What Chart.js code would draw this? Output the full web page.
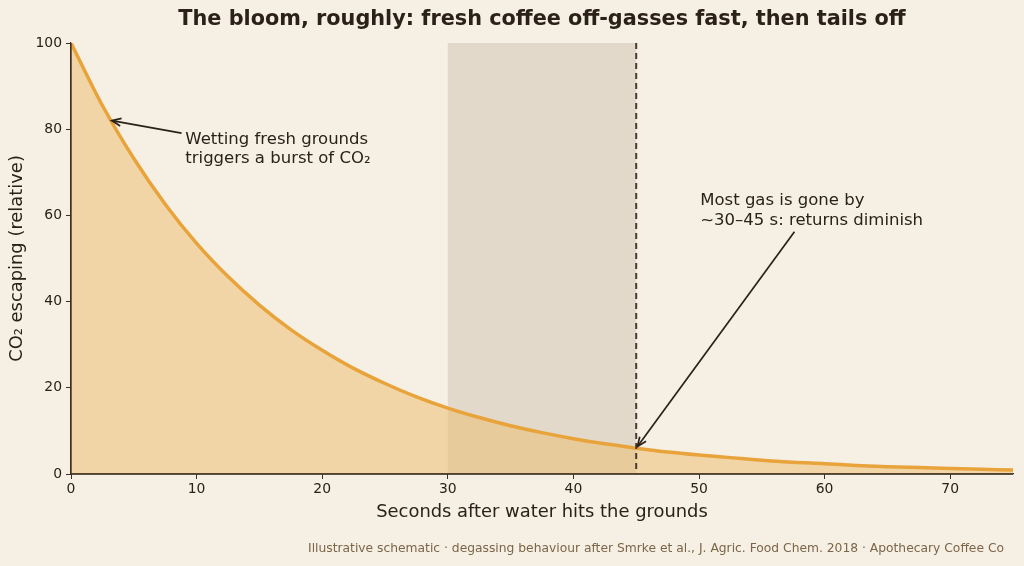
<!DOCTYPE html>
<html lang="en">
<head>
<meta charset="UTF-8">
<title>The bloom, roughly</title>
<script src="https://cdn.jsdelivr.net/npm/chart.js"></script>
<style>
  html, body { margin: 0; padding: 0; background: #f5efe4; }
  canvas { display: block; }
</style>
</head>
<body>
<canvas id="bloomChart" width="1024" height="566"></canvas>
<script>
// seconds after water hits the grounds
const seconds = [0, 2.5, 5, 7.5, 10, 12.5, 15, 17.5, 20, 22.5, 25, 27.5, 30, 32.5, 35, 37.5,
                 40, 42.5, 45, 47.5, 50, 52.5, 55, 57.5, 60, 62.5, 65, 67.5, 70, 72.5, 75];
// relative CO2 escaping
const co2 = [100, 85.5, 73.2, 62.6, 53.5, 45.8, 39.2, 33.5, 28.7, 24.5, 21.0, 17.9, 15.3, 13.1, 11.2, 9.6,
             8.2, 7.0, 6.0, 5.1, 4.4, 3.8, 3.2, 2.7, 2.4, 2.0, 1.7, 1.5, 1.3, 1.1, 0.9];
const xTicks = [0, 10, 20, 30, 40, 50, 60, 70];
const yTicks = [0, 20, 40, 60, 80, 100];
const bloomWindow = [30, 45];

const ink = '#2b2118';
const axisInk = '#3d2f22';
const font = 'DejaVu Sans';

const notes = [
  { text: ['Wetting fresh grounds', 'triggers a burst of CO₂'], at: [9.1, 77.6], from: [8.8, 79.1], to: [3.25, 82] },
  { text: ['Most gas is gone by', '~30–45 s: returns diminish'], at: [50.1, 63.4], from: [57.6, 56.2], to: [45.1, 6.4] }
];

const decor = {
  id: 'decor',
  beforeDatasetsDraw(chart) {
    const { ctx, scales: { x, y } } = chart;
    ctx.save();
    ctx.fillStyle = 'rgba(150, 130, 100, 0.2)';
    const x0 = x.getPixelForValue(bloomWindow[0]);
    const x1 = x.getPixelForValue(bloomWindow[1]);
    ctx.fillRect(x0, y.getPixelForValue(100), x1 - x0, y.getPixelForValue(0) - y.getPixelForValue(100));
    ctx.restore();
  },
  afterDatasetsDraw(chart) {
    const { ctx, chartArea, scales: { x, y } } = chart;
    ctx.save();
    // axis spines on top of the fill
    ctx.strokeStyle = axisInk;
    ctx.lineWidth = 1.3;
    ctx.beginPath();
    ctx.moveTo(chartArea.left, chartArea.top);
    ctx.lineTo(chartArea.left, chartArea.bottom);
    ctx.lineTo(chartArea.right, chartArea.bottom);
    ctx.stroke();

    // end of bloom window
    ctx.strokeStyle = '#4a3b2d';
    ctx.lineWidth = 2;
    ctx.setLineDash([6, 4]);
    const xe = x.getPixelForValue(bloomWindow[1]);
    ctx.beginPath();
    ctx.moveTo(xe, y.getPixelForValue(100));
    ctx.lineTo(xe, y.getPixelForValue(0));
    ctx.stroke();
    ctx.setLineDash([]);

    // annotations
    notes.forEach(n => {
      const fx = x.getPixelForValue(n.from[0]), fy = y.getPixelForValue(n.from[1]);
      const tx = x.getPixelForValue(n.to[0]), ty = y.getPixelForValue(n.to[1]);
      ctx.strokeStyle = ink;
      ctx.lineWidth = 1.7;
      ctx.beginPath();
      ctx.moveTo(fx, fy);
      ctx.lineTo(tx, ty);
      ctx.stroke();
      const a = Math.atan2(ty - fy, tx - fx);
      ctx.beginPath();
      ctx.moveTo(tx - 10 * Math.cos(a - 0.4), ty - 10 * Math.sin(a - 0.4));
      ctx.lineTo(tx, ty);
      ctx.lineTo(tx - 10 * Math.cos(a + 0.4), ty - 10 * Math.sin(a + 0.4));
      ctx.stroke();

      ctx.fillStyle = ink;
      ctx.font = '16.5px "' + font + '"';
      ctx.textAlign = 'left';
      ctx.textBaseline = 'middle';
      const tx0 = x.getPixelForValue(n.at[0]), ty0 = y.getPixelForValue(n.at[1]);
      n.text.forEach((line, i) => ctx.fillText(line, tx0, ty0 + i * 19.5));
    });

    // title and source
    ctx.textAlign = 'center';
    ctx.font = 'bold 20.8px "' + font + '"';
    ctx.fillText('The bloom, roughly: fresh coffee off-gasses fast, then tails off', (x.left + x.right) / 2, 20);
    ctx.textAlign = 'right';
    ctx.fillStyle = '#7d6548';
    ctx.font = '12.3px "' + font + '"';
    ctx.fillText('Illustrative schematic · degassing behaviour after Smrke et al., J. Agric. Food Chem. 2018 · Apothecary Coffee Co', 1004, 549);
    ctx.restore();
  }
};

new Chart(document.getElementById('bloomChart'), {
  type: 'line',
  data: {
    labels: seconds,
    datasets: [{
      data: seconds.map((s, i) => ({ x: s, y: co2[i] })),
      borderColor: '#e8a33a',
      backgroundColor: 'rgba(238, 190, 110, 0.52)',
      borderWidth: 3.5,
      fill: 'origin',
      pointRadius: 0,
      tension: 0.4,
      cubicInterpolationMode: 'monotone'
    }]
  },
  options: {
    responsive: false,
    animation: false,
    layout: { padding: { left: 0, right: 11, top: 43, bottom: 42 } },
    plugins: { legend: { display: false }, tooltip: { enabled: false } },
    scales: {
      x: {
        type: 'linear',
        min: 0,
        max: 75,
        afterBuildTicks: s => { s.ticks = xTicks.map(v => ({ value: v })); },
        afterFit: s => { s.height = 50; },
        grid: { drawOnChartArea: false, drawTicks: true, tickLength: 5, color: axisInk },
        border: { color: axisInk, width: 1.2 },
        ticks: { color: ink, font: { family: font, size: 13.9 }, padding: 2, maxRotation: 0 },
        title: { display: true, text: 'Seconds after water hits the grounds', color: ink,
                 font: { family: font, size: 17.9 }, padding: { top: 2, bottom: 1 } }
      },
      y: {
        min: 0,
        max: 100,
        afterBuildTicks: s => { s.ticks = yTicks.map(v => ({ value: v })); },
        afterFit: s => { s.width = 71; },
        grid: { drawOnChartArea: false, drawTicks: true, tickLength: 5, color: axisInk },
        border: { color: axisInk, width: 1.2 },
        ticks: { color: ink, font: { family: font, size: 13.9 }, padding: 4 },
        title: { display: true, text: 'CO₂ escaping (relative)', color: ink,
                 font: { family: font, size: 17.9 }, padding: { top: 7, bottom: 8 } }
      }
    }
  },
  plugins: [decor]
});
</script>
</body>
</html>
